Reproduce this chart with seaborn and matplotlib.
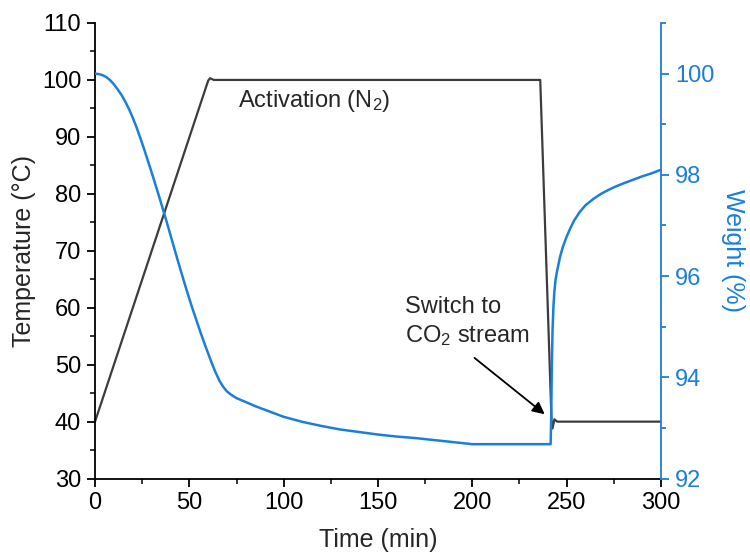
import numpy as np
import pandas as pd
import matplotlib
matplotlib.use("Agg")
import matplotlib.pyplot as plt
import seaborn as sns

# ---- data ----
time_temp = [0, 60, 61, 63, 236, 242, 242.5, 243.5, 245, 300]
temperature = [40, 99.9, 100.3, 100, 100, 40, 38.8, 40.4, 40, 40]

time_weight = [0, 2, 4, 6, 8, 10, 12, 14, 16, 18, 20, 22, 24, 26, 28, 30, 32, 34, 36, 38,
               40, 42, 44, 46, 48, 50, 52, 54, 56, 58, 60, 62, 64, 66, 68, 70, 72, 75, 80,
               85, 90, 95, 100, 110, 120, 130, 140, 150, 160, 170, 180, 190, 200, 241.5,
               241.8, 242.1, 242.5, 243, 243.5, 244.2, 245.2, 246.5, 248, 250, 252, 254,
               257, 260, 264, 268, 272, 276, 280, 285, 290, 295, 300]
weight = [100.00, 99.99, 99.97, 99.93, 99.87, 99.79, 99.69, 99.58, 99.45, 99.30, 99.13,
          98.94, 98.73, 98.51, 98.28, 98.05, 97.81, 97.57, 97.32, 97.07, 96.81, 96.55,
          96.29, 96.04, 95.79, 95.55, 95.32, 95.10, 94.88, 94.67, 94.47, 94.27, 94.09,
          93.93, 93.81, 93.72, 93.66, 93.59, 93.51, 93.43, 93.36, 93.29, 93.22, 93.12,
          93.04, 92.97, 92.92, 92.87, 92.83, 92.80, 92.76, 92.72, 92.68, 92.68, 93.2,
          94.1, 94.9, 95.4, 95.7, 95.95, 96.15, 96.38, 96.58, 96.78, 96.95, 97.10, 97.27,
          97.40, 97.52, 97.62, 97.70, 97.77, 97.83, 97.90, 97.97, 98.03, 98.10]

x_ticks = [0, 50, 100, 150, 200, 250, 300]
temp_ticks = [30, 40, 50, 60, 70, 80, 90, 100, 110]
weight_ticks = [92, 94, 96, 98, 100]

BLUE = "#1A7FDC"
GRAY = "#3C3C3C"

sns.set_style("ticks")
plt.rcParams["font.family"] = ["Liberation Sans", "DejaVu Sans"]
plt.rcParams["mathtext.default"] = "regular"

df_t = pd.DataFrame({"time": time_temp, "temp": temperature})
df_w = pd.DataFrame({"time": time_weight, "weight": weight})

fig = plt.figure(figsize=(7.5, 5.58), dpi=100)
ax = fig.add_axes([0.1267, 0.1423, 0.8813 - 0.1267, 0.9588 - 0.1423])
ax2 = ax.twinx()

sns.lineplot(data=df_t, x="time", y="temp", ax=ax, color=GRAY, lw=1.6,
             sort=False, estimator=None)
sns.lineplot(data=df_w, x="time", y="weight", ax=ax2, color=BLUE, lw=1.8,
             sort=False, estimator=None)

ax.set_xlim(0, 300)
ax.set_ylim(30, 110)
ax2.set_ylim(92, 101)
ax.set_xticks(x_ticks)
ax.set_xticks([25, 75, 125, 175, 225, 275], minor=True)
ax.set_yticks(temp_ticks)
ax.set_yticks([35, 45, 55, 65, 75, 85, 95, 105], minor=True)
ax2.set_yticks(weight_ticks)
ax2.set_yticks([93, 95, 97, 99, 101], minor=True)

for a in (ax, ax2):
    a.spines["top"].set_visible(False)
ax.spines["right"].set_visible(False)
ax2.spines["left"].set_visible(False)
ax2.spines["bottom"].set_visible(False)
ax2.spines["right"].set_color(BLUE)
for s in ("left", "bottom"):
    ax.spines[s].set_linewidth(1.3)
    ax.spines[s].set_color("black")
ax2.spines["right"].set_linewidth(1.3)

ax.tick_params(axis="both", which="major", direction="out", length=6, width=1.3,
               labelsize=17, colors="black", pad=4)
ax.tick_params(axis="both", which="minor", direction="out", length=3.5, width=1.3)
ax2.tick_params(axis="y", which="major", direction="out", length=6, width=1.3,
                labelsize=17, colors=BLUE, pad=4)
ax2.tick_params(axis="y", which="minor", direction="out", length=3.5, width=1.3,
                colors=BLUE)

ax.set_xlabel("Time (min)", fontsize=18, labelpad=10)
ax.set_ylabel("Temperature (°C)", fontsize=18, labelpad=4)
ax2.set_ylabel("Weight (%)", fontsize=18, color=BLUE, rotation=270, labelpad=22)

ax.text(75.8, 96.3, "Activation (N$_2$)", fontsize=17, ha="left", va="center")
ax.text(164.5, 57.5, "Switch to\nCO$_2$ stream", fontsize=17, ha="left", va="center",
        linespacing=1.3)
ax.annotate("", xy=(239.5, 41.0), xytext=(200, 51.5),
            arrowprops=dict(arrowstyle="-|>", color="black", lw=1.3, mutation_scale=18))

fig.savefig("out.png", dpi=100)
